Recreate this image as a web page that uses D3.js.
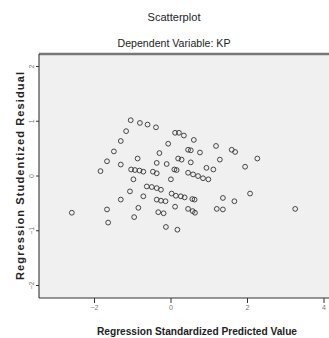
<!DOCTYPE html>
<html>
<head>
<meta charset="utf-8">
<script src="https://cdn.jsdelivr.net/npm/d3@7"></script>
<style>
  body { margin: 0; background: #fff; }
  svg { display: block; }
  .axis path { display: none; }
  .axis line { stroke: #333; }
  .axis text { fill: #777; font-family: "Liberation Sans Narrow", "Liberation Sans", Arial, sans-serif; font-size: 7px; }
</style>
</head>
<body>
<div id="chart"></div>
<script>
// standardized predicted value vs studentized residual
const predicted = [
	-1.04, -0.80, -0.60, -0.38, -1.16, -1.30, 0.12, 0.22, 0.35, 0.61,
	-0.06, -1.48, -0.29, 0.46, 0.53, 0.77, 1.19, 1.60, 1.69, 2.27,
	-1.66, -0.86, 0.20, 0.29, -0.36, -0.10, 0.53, 1.29, 1.95, 0.94,
	1.12, -1.83, -1.30, -1.03, -0.93, -0.81, -0.71, -0.46, -0.36, 0.10,
	0.16, 0.46, 0.59, 0.72, 0.85, 0.99, -0.97, 0.01, -0.62, -0.49,
	-0.36, -0.25, -1.06, -0.71, -0.36, -0.25, -0.13, 0.03, 0.14, 0.27,
	0.37, 0.57, 0.63, -1.30, 0.12, -0.84, -0.32, -0.18, 0.46, 0.58,
	0.64, -2.58, -1.66, -1.63, -0.95, -0.12, 0.18, 1.37, 1.67, 2.08,
	1.21, 1.37, 3.26
];
const residual = [
	1.01, 0.96, 0.93, 0.88, 0.81, 0.63, 0.78, 0.78, 0.73, 0.65,
	0.58, 0.44, 0.41, 0.47, 0.46, 0.42, 0.54, 0.47, 0.43, 0.31,
	0.26, 0.31, 0.31, 0.29, 0.23, 0.21, 0.24, 0.29, 0.16, 0.14,
	0.11, 0.08, 0.20, 0.11, 0.10, 0.09, 0.07, 0.07, 0.04, 0.11,
	0.10, 0.05, 0.02, -0.01, -0.05, -0.07, -0.07, -0.07, -0.20, -0.21,
	-0.23, -0.26, -0.29, -0.38, -0.44, -0.46, -0.47, -0.33, -0.37, -0.38,
	-0.40, -0.43, -0.44, -0.44, -0.57, -0.59, -0.67, -0.69, -0.61, -0.65,
	-0.68, -0.68, -0.62, -0.86, -0.76, -0.94, -0.99, -0.41, -0.47, -0.33,
	-0.61, -0.62, -0.61
];
const xTicks = [-2, 0, 2, 4];
const yTicks = [-2, -1, 0, 1, 2];

const title = 'Scatterplot';
const subtitle = 'Dependent Variable: KP';
const xLabel = 'Regression Standardized Predicted Value';
const yLabel = 'Regression Studentized Residual';

const size = { width: 329, height: 338 };
const frame = { left: 39, top: 54, right: 345, bottom: 298 };

const scale = {
	x: d3.scaleLinear().domain([-2, 4]).range([94, 323.5]),
	y: d3.scaleLinear().domain([-2, 2]).range([285, 66]),
};

const font = '"Liberation Sans Narrow", "Liberation Sans", Arial, sans-serif';

const svg = d3.select('#chart').append('svg')
	.attr('width', size.width).attr('height', size.height);

svg.append('text').attr('x', 174).attr('y', 21)
	.attr('text-anchor', 'middle').attr('font-family', font)
	.attr('font-size', 10.5).attr('fill', '#222')
	.attr('textLength', 53).attr('lengthAdjust', 'spacingAndGlyphs')
	.text(title);

svg.append('text').attr('x', 174).attr('y', 46.5)
	.attr('text-anchor', 'middle').attr('font-family', font)
	.attr('font-size', 10.5).attr('fill', '#222')
	.attr('textLength', 113).attr('lengthAdjust', 'spacingAndGlyphs')
	.text(subtitle);

// plot frame
svg.append('rect')
	.attr('x', frame.left).attr('y', frame.top)
	.attr('width', frame.right - frame.left).attr('height', frame.bottom - frame.top)
	.attr('fill', '#f0f0f0');
svg.append('line')
	.attr('x1', frame.left).attr('x2', frame.right)
	.attr('y1', frame.top).attr('y2', frame.top)
	.attr('stroke', '#777').attr('stroke-width', 2.5);
svg.append('line')
	.attr('x1', frame.left).attr('x2', frame.left)
	.attr('y1', frame.top).attr('y2', frame.bottom)
	.attr('stroke', '#444').attr('stroke-width', 1.2);
svg.append('line')
	.attr('x1', frame.left).attr('x2', frame.right)
	.attr('y1', frame.bottom).attr('y2', frame.bottom)
	.attr('stroke', '#333').attr('stroke-width', 1.2);

const axis = {
	x: svg.append('g').classed('axis', true)
		.attr('transform', `translate(0, ${frame.bottom})`),
	y: svg.append('g').classed('axis', true)
		.attr('transform', `translate(${frame.left}, 0)`),
};

axis.x.call(d3.axisBottom(scale.x).tickValues(xTicks)
	.tickSize(5).tickPadding(2).tickFormat(d3.format('d')));

axis.y.call(d3.axisLeft(scale.y).tickValues(yTicks)
	.tickSize(3).tickPadding(2).tickFormat(d3.format('d')));
axis.y.selectAll('text')
	.attr('transform', 'rotate(-90)')
	.attr('x', null).attr('y', null).attr('dy', null)
	.attr('text-anchor', 'middle')
	.attr('transform', 'translate(-5, 0) rotate(-90)');

svg.append('g').selectAll('circle')
	.data(predicted.map((p, i) => [p, residual[i]]))
	.join('circle')
	.attr('cx', (d) => scale.x(d[0]))
	.attr('cy', (d) => scale.y(d[1]))
	.attr('r', 2.4)
	.attr('fill', 'none')
	.attr('stroke', '#333')
	.attr('stroke-width', 0.9);

svg.append('text').attr('x', 197).attr('y', 335)
	.attr('text-anchor', 'middle').attr('font-family', font)
	.attr('font-size', 10.5).attr('font-weight', 'bold').attr('fill', '#222')
	.attr('textLength', 200).attr('lengthAdjust', 'spacingAndGlyphs')
	.text(xLabel);

svg.append('text')
	.attr('transform', 'translate(24, 176) rotate(-90)')
	.attr('text-anchor', 'middle').attr('font-family', font)
	.attr('font-size', 11).attr('font-weight', 'bold').attr('fill', '#222')
	.attr('textLength', 208).attr('lengthAdjust', 'spacing')
	.text(yLabel);
</script>
</body>
</html>
